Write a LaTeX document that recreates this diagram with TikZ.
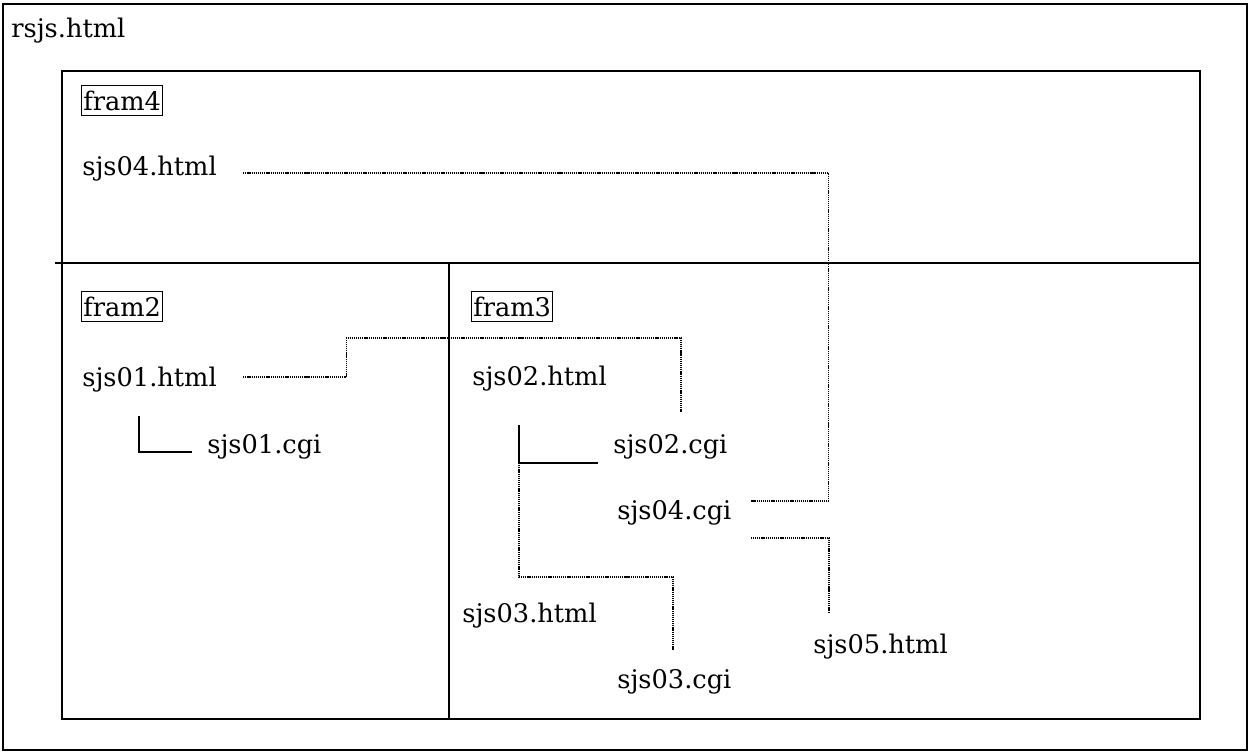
\documentclass[tikz,border=0pt]{standalone}
\usepackage{fontspec}
\setmainfont{DejaVu Serif}
\usetikzlibrary{calc}

\tikzset{
  file/.style={anchor=base west, inner sep=0pt, font=\fontsize{14.6}{17}\selectfont},
  framelabel/.style={file, draw, line width=0.6pt, inner xsep=1pt, inner ysep=3pt},
  link/.style={line width=0.7pt, dash pattern=on 0.7pt off 0.5pt},
  tree/.style={line width=1.1pt},
  pane/.style={line width=1.1pt}
}

\begin{document}
\begin{tikzpicture}[x=0.02cm, y=-0.02cm]
  \useasboundingbox (0,0) rectangle (1249,752);

  % -- Cadres (frameset) --
  \draw[line width=0.6pt] (3,4) rectangle (1247,750);
  \draw[pane] (62,71) rectangle (1200,719);
  \draw[pane] (55,263) -- (1200,263);   % fram4 / bas
  \draw[pane] (449,263) -- (449,719);   % fram2 / fram3

  % -- Etiquettes des cadres --
  \node[file] (root) at (11,37) {rsjs.html};
  \node[framelabel] (f4) at (81,110) {fram4};
  \node[framelabel] (f2) at (81,316) {fram2};
  \node[framelabel] (f3) at (471,316) {fram3};

  % -- Fichiers --
  \foreach \n/\px/\py/\lbl in {s04h/82/175/sjs04.html, s01h/82/386/sjs01.html,
      s01c/207/453/sjs01.cgi, s02h/472/385/sjs02.html, s02c/613/453/sjs02.cgi,
      s04c/617/519/sjs04.cgi, s03h/462/622/sjs03.html, s03c/617/688/sjs03.cgi,
      s05h/813/653/sjs05.html}
    \node[file] (\n) at (\px,\py) {\lbl};

  % -- Appels directs (traits pleins) --
  \draw[tree] ($(s01h.base west)+(57,30)$) |- ($(s01c.base west)+(-15,-1)$);
  \coordinate (k2) at ($(s02h.base west)+(47,78)$);
  \draw[tree] ($(s02h.base west)+(47,40)$) -- (k2) -- ($(s02c.base west)+(-15,10)$);

  % -- Liens entre cadres (pointilles) --
  \draw[link] ($(s04h.base east)+(26,-2)$) -| ($(s04c.base east)+(97,-18)$) -- ($(s04c.base east)+(19,-18)$);
  \draw[link] ($(s01h.base east)+(26,-9)$) -- ++(103,0) -- ++(0,-39) -| ($(s02c.base west)+(68,-41)$);
  \draw[link] (k2) -- ++(0,114) -| ($(s03c.base west)+(56,-38)$);
  \draw[link] ($(s04c.base east)+(19,19)$) -| ($(s05h.base west)+(16,-41)$);
\end{tikzpicture}
\end{document}
